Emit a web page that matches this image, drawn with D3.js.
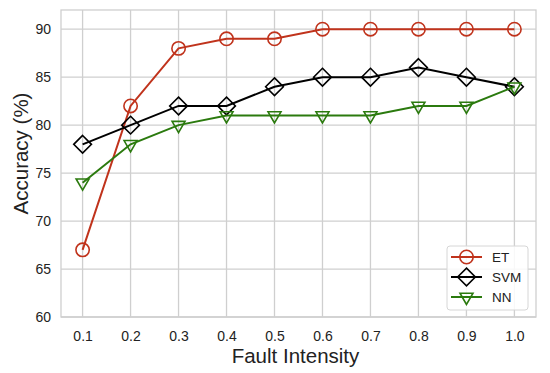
<!DOCTYPE html>
<html>
<head>
<meta charset="utf-8">
<script src="https://cdn.jsdelivr.net/npm/d3@7"></script>
<style>
  body { margin: 0; background: #fff; }
  text { font-family: "Liberation Sans", Arial, Helvetica, sans-serif; fill: #222; }
</style>
</head>
<body>
<div id="chart"></div>
<script>
// data
var intensity = [0.1, 0.2, 0.3, 0.4, 0.5, 0.6, 0.7, 0.8, 0.9, 1.0];
var etAcc  = [67, 82, 88, 89, 89, 90, 90, 90, 90, 90];
var svmAcc = [78, 80, 82, 82, 84, 85, 85, 86, 85, 84];
var nnAcc  = [74, 78, 80, 81, 81, 81, 81, 82, 82, 84];
var yTicks = [60, 65, 70, 75, 80, 85, 90];
var seriesNames = ["ET", "SVM", "NN"];

var margin = {top: 10, right: 14, bottom: 56, left: 61},
    width = 550 - margin.left - margin.right,
    height = 373 - margin.top - margin.bottom;

var svg = d3.select("#chart")
  .append("svg")
    .attr("width", 550)
    .attr("height", 373)
  .append("g")
    .attr("transform", "translate(" + margin.left + "," + margin.top + ")");

var x = d3.scaleLinear().domain([0.055, 1.045]).range([0, width]);
var y = d3.scaleLinear().domain([60, 92]).range([height, 0]);

// grid
svg.append("g")
  .selectAll("line")
  .data(intensity)
  .enter().append("line")
    .attr("x1", d => x(d)).attr("x2", d => x(d))
    .attr("y1", 0).attr("y2", height)
    .attr("stroke", "#cfcfcf").attr("stroke-width", 1.3);
svg.append("g")
  .selectAll("line")
  .data(yTicks)
  .enter().append("line")
    .attr("x1", 0).attr("x2", width)
    .attr("y1", d => y(d)).attr("y2", d => y(d))
    .attr("stroke", "#cfcfcf").attr("stroke-width", 1.3);

// frame
svg.append("rect")
  .attr("width", width).attr("height", height)
  .attr("fill", "none").attr("stroke", "#cfcfcf").attr("stroke-width", 1.3);

// axes
var xAxis = svg.append("g")
  .attr("transform", "translate(0," + height + ")")
  .call(d3.axisBottom(x).tickValues(intensity).tickFormat(d3.format(".1f")).tickSize(0).tickPadding(14));
var yAxis = svg.append("g")
  .call(d3.axisLeft(y).tickValues(yTicks).tickSize(0).tickPadding(10));
[xAxis, yAxis].forEach(function(a) {
  a.select(".domain").remove();
  a.selectAll("text").style("font-size", "14px").attr("fill", "#1a1a1a");
});

// axis labels
svg.append("text")
  .attr("x", width / 2 - 3)
  .attr("y", height + 46)
  .attr("text-anchor", "middle")
  .style("font-size", "20.5px")
  .text("Fault Intensity");
svg.append("text")
  .attr("text-anchor", "middle")
  .attr("transform", "rotate(-90)")
  .attr("y", -margin.left + 28)
  .attr("x", -(height / 2) + 10)
  .style("font-size", "20.5px")
  .text("Accuracy (%)");

var colors = {ET: "#c0331c", SVM: "#000000", NN: "#2b7a0e"};
var dataBy = {ET: etAcc, SVM: svmAcc, NN: nnAcc};
var symbols = {
  ET: d3.symbol().type(d3.symbolCircle).size(140),
  SVM: d3.symbol().type(d3.symbolDiamond2).size(200),
  NN: d3.symbol().type(d3.symbolTriangle2).size(120)
};

var line = d3.line().x(d => x(d[0])).y(d => y(d[1]));

seriesNames.forEach(function(name) {
  var pts = intensity.map((v, i) => [v, dataBy[name][i]]);
  svg.append("path")
    .datum(pts)
    .attr("d", line)
    .attr("fill", "none")
    .attr("stroke", colors[name])
    .attr("stroke-width", 2);
  svg.append("g")
    .selectAll("path")
    .data(pts)
    .enter().append("path")
      .attr("d", symbols[name])
      .attr("transform", d => "translate(" + x(d[0]) + "," + y(d[1]) + ")" + (name == "NN" ? " rotate(180)" : ""))
      .attr("fill", "none")
      .attr("stroke", colors[name])
      .attr("stroke-width", 1.6);
});

// legend
var legend = svg.append("g").attr("transform", "translate(" + (width - 89) + "," + (height - 71) + ")");
legend.append("rect")
  .attr("width", 81).attr("height", 64).attr("rx", 3)
  .attr("fill", "#fff").attr("fill-opacity", 0.85)
  .attr("stroke", "#d6d6d6");
seriesNames.forEach(function(name, i) {
  var ly = 11 + i * 20;
  legend.append("line")
    .attr("x1", 4).attr("x2", 35).attr("y1", ly).attr("y2", ly)
    .attr("stroke", colors[name]).attr("stroke-width", 2);
  legend.append("path")
    .attr("d", symbols[name])
    .attr("transform", "translate(19.5," + ly + ")" + (name == "NN" ? " rotate(180)" : ""))
    .attr("fill", "none").attr("stroke", colors[name]).attr("stroke-width", 1.6);
  legend.append("text")
    .attr("x", 45).attr("y", ly + 5)
    .style("font-size", "13.5px")
    .text(name);
});
</script>
</body>
</html>
